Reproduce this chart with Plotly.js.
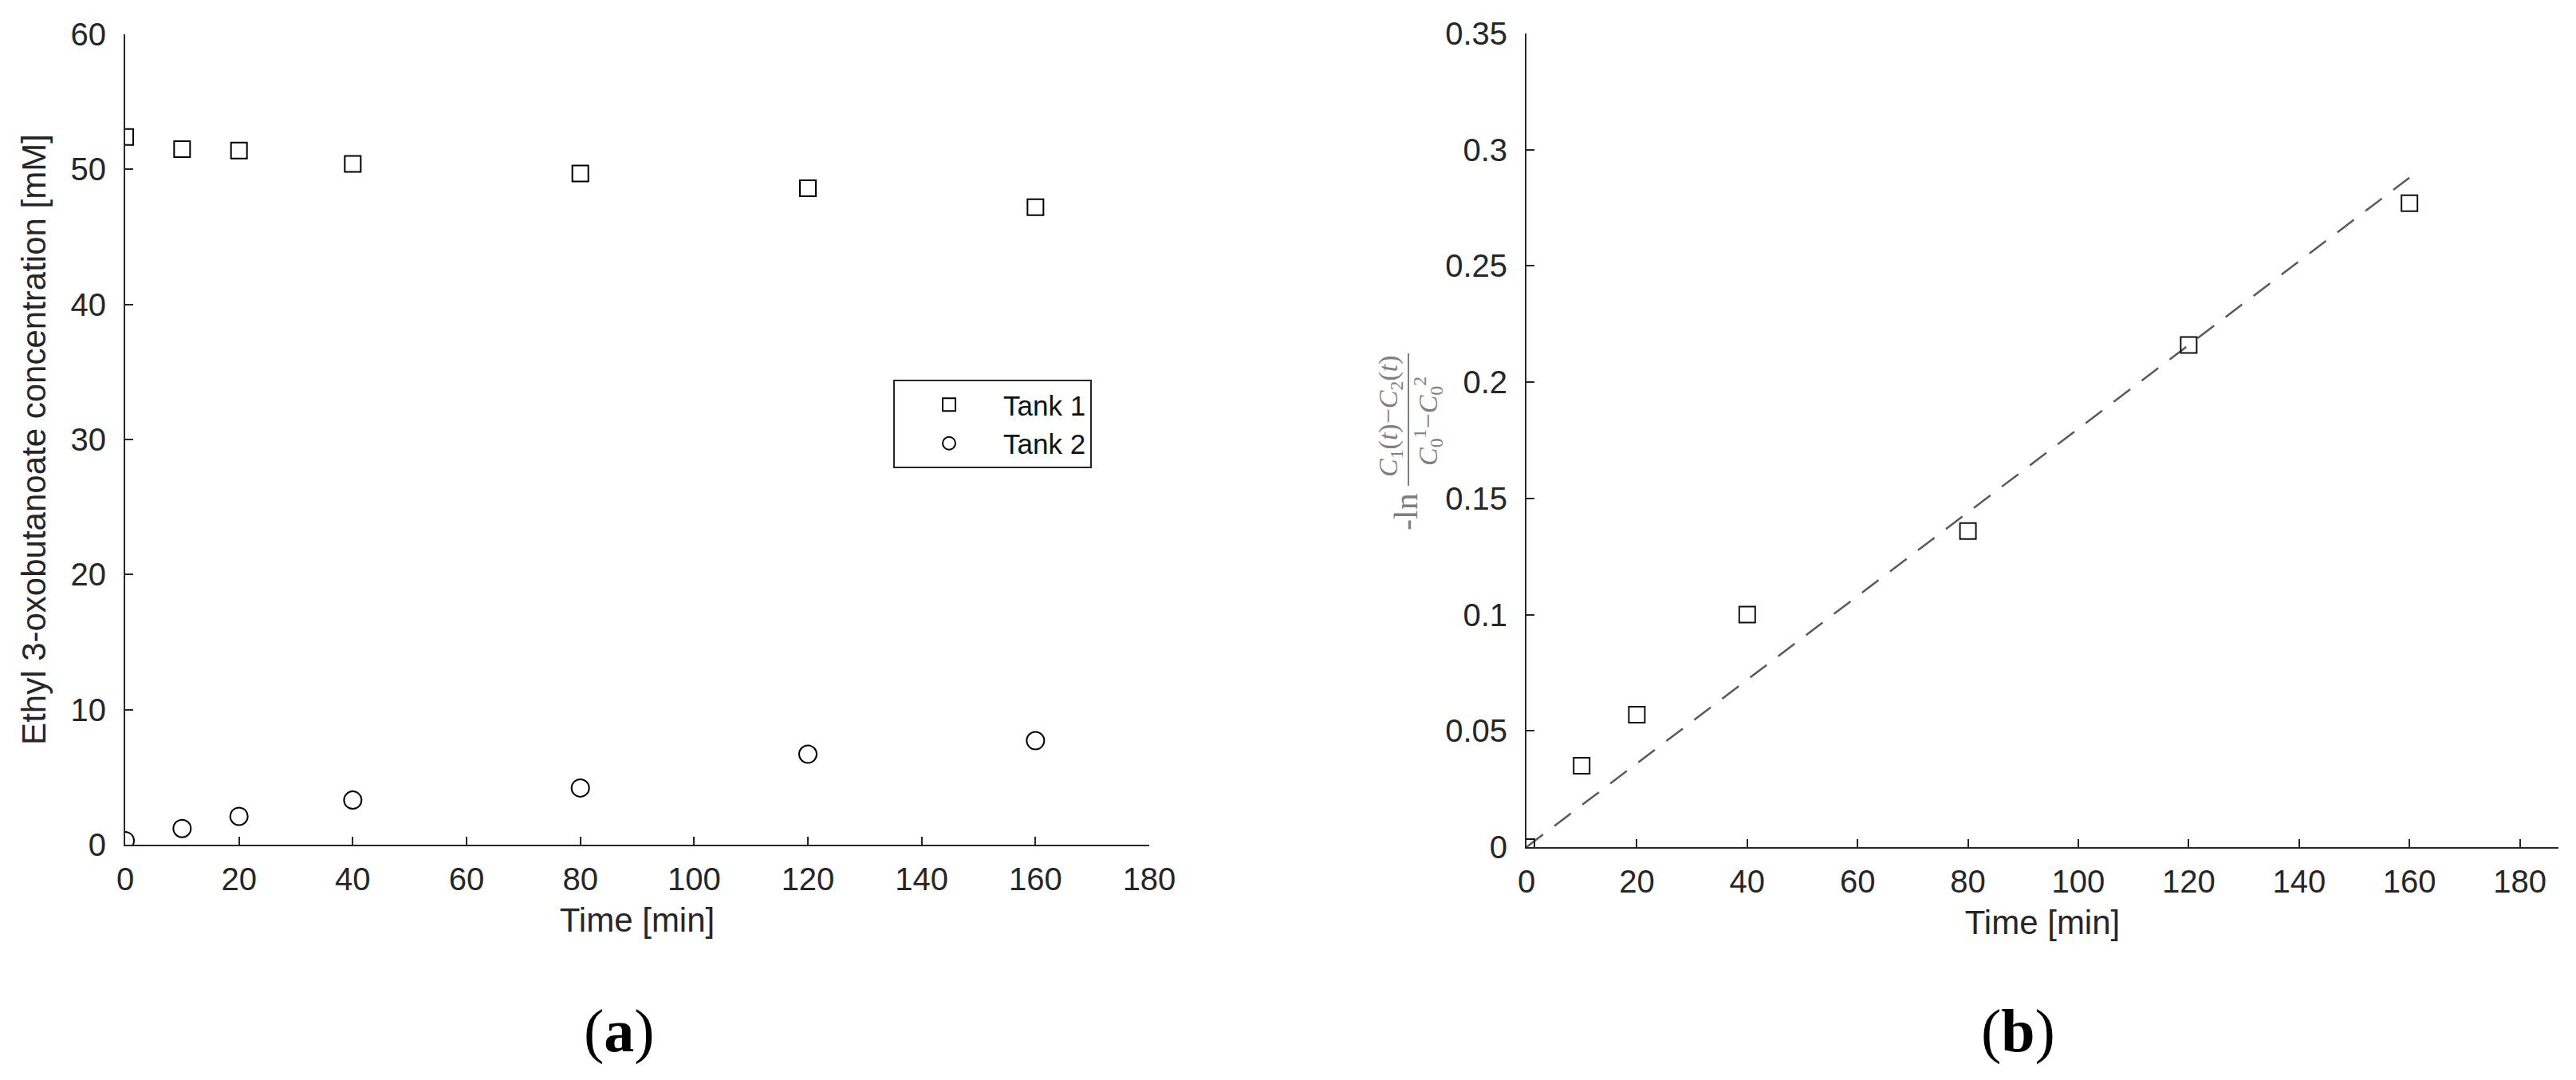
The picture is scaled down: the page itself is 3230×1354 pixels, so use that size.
<!DOCTYPE html>
<html>
<head>
<meta charset="utf-8">
<script src="https://cdn.plot.ly/plotly-3.0.1.min.js"></script>
<style>
html,body{margin:0;padding:0;background:#fff;}
#chart{width:3230px;height:1354px;}
</style>
</head>
<body>
<div id="chart"></div>
<script>
// Data
const timeMin = [0, 10, 20, 40, 80, 120, 160];
const tank1 = [52.4, 51.5, 51.4, 50.4, 49.7, 48.6, 47.2];
const tank2 = [0.3, 1.2, 2.1, 3.3, 4.2, 6.7, 7.7];
const lnRatio = [0, 0.035, 0.057, 0.100, 0.136, 0.216, 0.277];
const fitTime = [0, 160];
const fitValue = [0, 0.288];
const xTicks = [0, 20, 40, 60, 80, 100, 120, 140, 160, 180];
const yTicksA = [0, 10, 20, 30, 40, 50, 60];
const yTicksB = [0, 0.05, 0.1, 0.15, 0.2, 0.25, 0.3, 0.35];

const W = 3230, H = 1354;
const px = v => v / W;
const py = v => 1 - v / H;

const axisColor = '#262626';
const sans = 'Liberation Sans, Arial, Helvetica, sans-serif';
const serif = 'Liberation Serif, Times New Roman, serif';

const traces = [
  {x: timeMin, y: tank1, name: 'Tank 1', type: 'scatter', mode: 'markers',
   marker: {symbol: 'square-open', size: 20, color: '#000', line: {width: 2, color: '#000'}},
   xaxis: 'x', yaxis: 'y'},
  {x: timeMin, y: tank2, name: 'Tank 2', type: 'scatter', mode: 'markers',
   marker: {symbol: 'circle-open', size: 22, color: '#000', line: {width: 2, color: '#000'}},
   xaxis: 'x', yaxis: 'y'},
  {x: fitTime, y: fitValue, type: 'scatter', mode: 'lines', showlegend: false,
   line: {color: '#595959', width: 2.5, dash: '26px,18px'},
   xaxis: 'x2', yaxis: 'y2'},
  {x: timeMin, y: lnRatio, type: 'scatter', mode: 'markers', showlegend: false,
   marker: {symbol: 'square-open', size: 20, color: '#111', line: {width: 2, color: '#111'}},
   xaxis: 'x2', yaxis: 'y2'}
];

function axisBase() {
  return {
    showline: true, linecolor: axisColor, linewidth: 2,
    ticks: 'inside', ticklen: 10, tickwidth: 2, tickcolor: axisColor,
    showgrid: false, zeroline: false, mirror: false,
    tickfont: {family: sans, size: 40, color: axisColor},
    automargin: false
  };
}

const layout = {
  width: W, height: H,
  margin: {l: 0, r: 0, t: 0, b: 0},
  paper_bgcolor: '#fff', plot_bgcolor: '#fff',
  showlegend: true,
  legend: {
    x: px(1120), y: py(476), xanchor: 'left', yanchor: 'top',
    bordercolor: axisColor, borderwidth: 2, bgcolor: '#fff',
    font: {family: sans, size: 35, color: '#111'},
    itemwidth: 126, tracegroupgap: 0
  },
  xaxis: Object.assign(axisBase(), {
    domain: [px(157), px(1441)], range: [0, 180], anchor: 'y',
    tickvals: xTicks, ticklabelstandoff: 7,
    title: {text: 'Time [min]', font: {family: sans, size: 42, color: axisColor}, standoff: 16}
  }),
  yaxis: Object.assign(axisBase(), {
    domain: [py(1059), py(43)], range: [0, 60], anchor: 'x',
    tickvals: yTicksA, ticklabelstandoff: 14,
    title: {text: 'Ethyl 3-oxobutanoate concentration [mM]', font: {family: sans, size: 42, color: axisColor}, standoff: 18}
  }),
  xaxis2: Object.assign(axisBase(), {
    domain: [px(1914), px(3208)], range: [0, 187], anchor: 'y2',
    tickvals: xTicks, ticklabelstandoff: 7,
    title: {text: 'Time [min]', font: {family: sans, size: 42, color: axisColor}, standoff: 16}
  }),
  yaxis2: Object.assign(axisBase(), {
    domain: [py(1062), py(42)], range: [0, 0.35], anchor: 'x2',
    tickvals: yTicksB, ticklabelstandoff: 14
  }),
  annotations: [
    {xref: 'paper', yref: 'paper', x: px(776), y: py(1292), xanchor: 'center', yanchor: 'middle',
     text: '(<b>a</b>)', showarrow: false, font: {family: serif, size: 76, color: '#000'}},
    {xref: 'paper', yref: 'paper', x: px(2530), y: py(1292), xanchor: 'center', yanchor: 'middle',
     text: '(<b>b</b>)', showarrow: false, font: {family: serif, size: 76, color: '#000'}},
    {xref: 'paper', yref: 'paper', x: px(1763), y: py(642), xanchor: 'center', yanchor: 'middle',
     text: '-ln', textangle: -90, showarrow: false, font: {family: serif, size: 42, color: '#7f7f7f'}},
    {xref: 'paper', yref: 'paper', x: px(1743), y: py(521), xanchor: 'center', yanchor: 'middle',
     text: '<i>C</i><sub>1</sub>(<i>t</i>)−<i>C</i><sub>2</sub>(<i>t</i>)', textangle: -90, showarrow: false,
     font: {family: serif, size: 34, color: '#7f7f7f'}},
    {xref: 'paper', yref: 'paper', x: px(1790), y: py(528), xanchor: 'center', yanchor: 'middle',
     text: '<i>C</i><sub>0</sub><sup>1</sup>−<i>C</i><sub>0</sub><sup>2</sup>', textangle: -90, showarrow: false,
     font: {family: serif, size: 34, color: '#7f7f7f'}}
  ],
  shapes: [
    {type: 'line', xref: 'paper', yref: 'paper', x0: px(1766), x1: px(1766), y0: py(443), y1: py(609),
     line: {color: '#7f7f7f', width: 2}}
  ]
};

Plotly.newPlot('chart', traces, layout, {displayModeBar: false, staticPlot: true});
</script>
</body>
</html>
